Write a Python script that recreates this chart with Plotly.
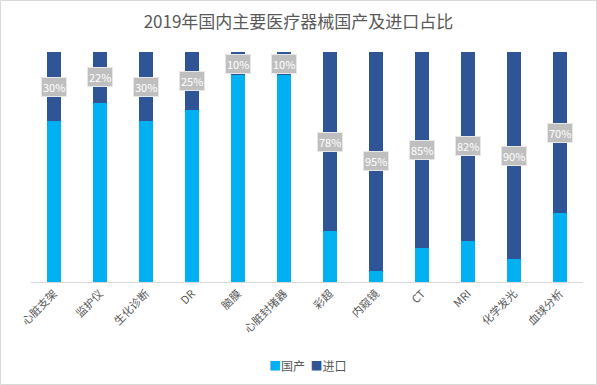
import plotly.graph_objects as go

categories = ["心脏支架", "监护仪", "生化诊断", "DR", "脑膜", "心脏封堵器",
              "彩超", "内窥镜", "CT", "MRI", "化学发光", "血球分析"]
import_pct = [30, 22, 30, 25, 10, 10, 78, 95, 85, 82, 90, 70]
domestic_pct = [100 - v for v in import_pct]
series_names = ["国产", "进口"]
series_colors = ["#00B0F0", "#2F5597"]

W, H = 597, 385
ml, mr, mt, mb = 31, 14, 52, 103
pw, ph = W - ml - mr, H - mt - mb

fig = go.Figure()
fig.add_trace(go.Bar(x=categories, y=domestic_pct, name=series_names[0],
                     marker=dict(color=series_colors[0], line=dict(width=0)), width=0.3))
fig.add_trace(go.Bar(x=categories, y=import_pct, name=series_names[1],
                     marker=dict(color=series_colors[1], line=dict(width=0)), width=0.3))

for c, d, i in zip(categories, domestic_pct, import_pct):
    fig.add_annotation(x=c, y=d + i / 2, text=f"{i}%", showarrow=False,
                       font=dict(size=11, color="white", family="Noto Sans CJK SC"),
                       bgcolor="#BFBFBF", bordercolor="#E7E7E7", borderwidth=1,
                       borderpad=1)

# legend drawn as text
legend_text = "  ".join(
    f"<span style='color:{col}'>■</span>{nm}" for nm, col in zip(series_names, series_colors))
fig.add_annotation(xref="paper", yref="paper", x=0.5, xanchor="center",
                   y=-(365 - (H - mb)) / ph, yanchor="middle", showarrow=False,
                   text=legend_text, font=dict(size=12, color="#595959"))

fig.add_shape(type="rect", xref="paper", yref="paper",
              x0=(0.5 - ml) / pw, x1=(W - 0.5 - ml) / pw,
              y0=(H - mb - (H - 0.5)) / ph, y1=(H - mb - 0.5) / ph,
              line=dict(color="#D9D9D9", width=1), layer="below")

fig.update_layout(
    width=W, height=H, barmode="stack", showlegend=False,
    margin=dict(l=ml, r=mr, t=mt, b=mb, autoexpand=False),
    paper_bgcolor="white", plot_bgcolor="white",
    font=dict(family="Noto Sans CJK SC", color="#595959"),
    title=dict(text="2019年国内主要医疗器械国产及进口占比", x=0.5, xanchor="center",
               y=1 - 22 / H, yanchor="middle",
               font=dict(size=17, color="#595959", family="Noto Sans CJK SC")),
    xaxis=dict(tickangle=-45, tickfont=dict(size=11, color="#595959"),
               showline=True, linecolor="#D9D9D9", linewidth=1, ticks="",
               showgrid=False, automargin=False),
    yaxis=dict(range=[0, 100], visible=False, showgrid=False, automargin=False),
    bargap=0.7,
)

fig.write_html("out.html", config={"displayModeBar": False},
               post_script="document.body.style.margin='0';document.body.style.overflow='hidden';")
